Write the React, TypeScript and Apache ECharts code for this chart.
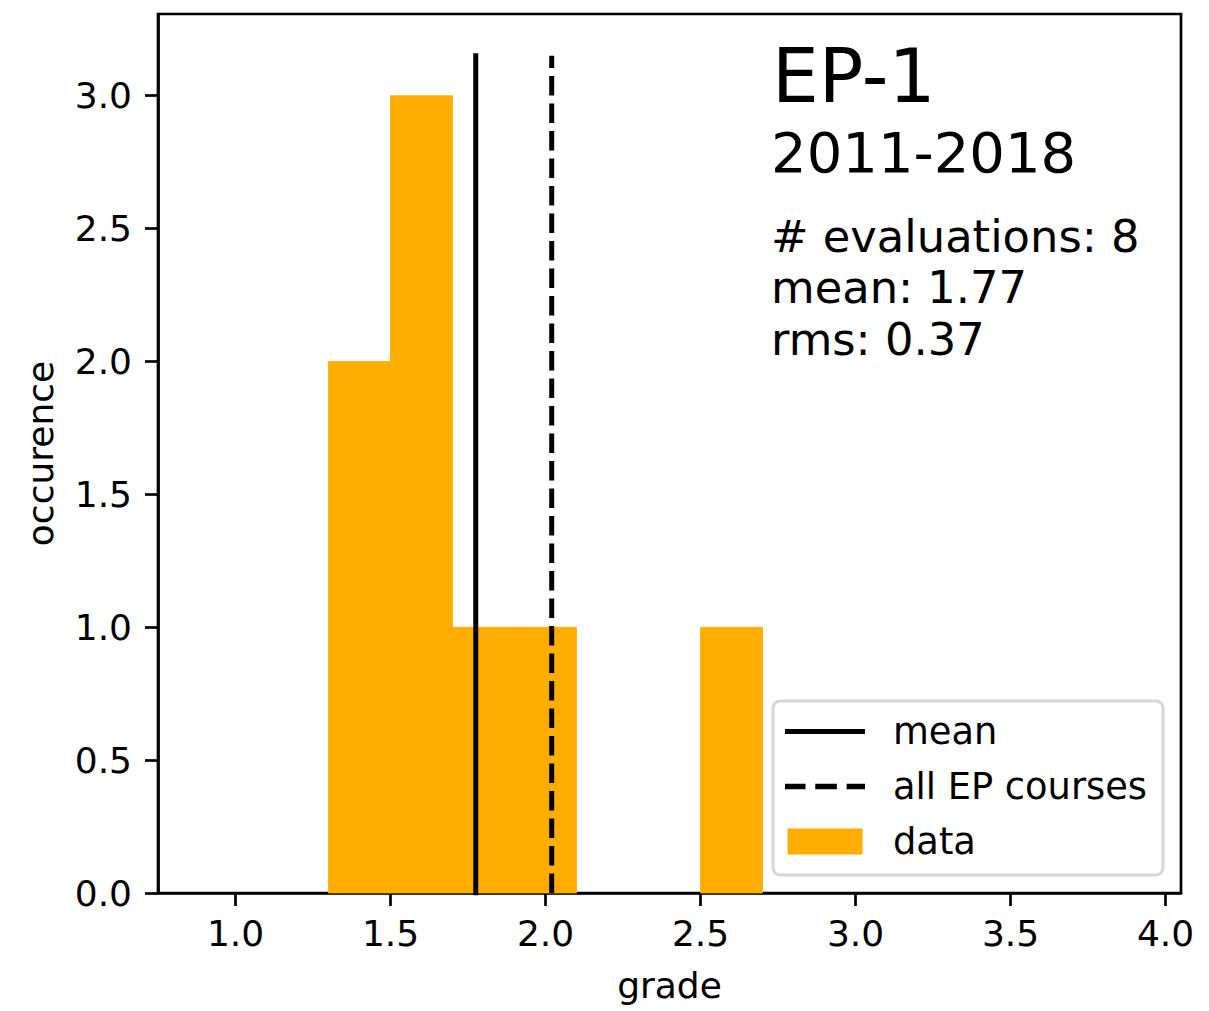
import React, { useEffect, useRef } from "react";
import * as echarts from "echarts";

// ---- data ----
const binEdges = [1.3, 1.5, 1.7, 1.9, 2.1, 2.3, 2.5, 2.7];
const counts = [2, 3, 1, 1, 0, 0, 1];
const meanGrade = 1.775;
const allCoursesMean = 2.02;
const lineTop = 3.15;
const xTicks = [1.0, 1.5, 2.0, 2.5, 3.0, 3.5, 4.0];
const yTicks = [0.0, 0.5, 1.0, 1.5, 2.0, 2.5, 3.0];
const courseName = "EP-1";
const yearRange = "2011-2018";
const statLines = ["# evaluations: 8", "mean: 1.77", "rms: 0.37"];
const seriesNames = ["mean", "all EP courses", "data"];

const FONT = "DejaVu Sans";
const BAR_COLOR = "#ffae00";

export default function App() {
  const ref = useRef<HTMLDivElement>(null);
  useEffect(() => {
    document.body.style.margin = "0";
    const chart = echarts.init(ref.current!, null, { renderer: "svg" });
    const histData = counts.map((c, i) => [binEdges[i], binEdges[i + 1], c]);
    const option: any = {
      animation: false,
      backgroundColor: "#ffffff",
      textStyle: { fontFamily: FONT, color: "#000" },
      grid: {
        left: 158,
        top: 14,
        width: 1023,
        height: 879,
        show: true,
        borderColor: "#000",
        borderWidth: 2.7,
        backgroundColor: "transparent",
      },
      xAxis: {
        type: "value",
        min: 0.75,
        max: 4.05,
        name: "grade",
        nameLocation: "middle",
        nameGap: 74,
        nameTextStyle: { fontSize: 36, fontFamily: FONT, color: "#000" },
        axisLine: { show: true, lineStyle: { color: "#000", width: 2.7 } },
        axisTick: {
          show: true,
          length: 13,
          lineStyle: { color: "#000", width: 2.7 },
          customValues: xTicks,
        },
        axisLabel: {
          fontSize: 36,
          fontFamily: FONT,
          color: "#000",
          margin: 22,
          customValues: xTicks,
          formatter: (v: number) => v.toFixed(1),
        },
        splitLine: { show: false },
      },
      yAxis: {
        type: "value",
        min: 0,
        max: 3.3075,
        name: "occurence",
        nameLocation: "middle",
        nameGap: 100,
        nameRotate: 90,
        nameTextStyle: { fontSize: 36, fontFamily: FONT, color: "#000" },
        axisLine: { show: true, lineStyle: { color: "#000", width: 2.7 } },
        axisTick: {
          show: true,
          length: 13,
          lineStyle: { color: "#000", width: 2.7 },
          customValues: yTicks,
        },
        axisLabel: {
          fontSize: 36,
          fontFamily: FONT,
          color: "#000",
          margin: 26,
          customValues: yTicks,
          formatter: (v: number) => v.toFixed(1),
        },
        splitLine: { show: false },
      },
      legend: {
        orient: "vertical",
        left: 773,
        top: 701,
        padding: [12, 16, 15, 12],
        itemWidth: 80,
        itemHeight: 26,
        itemGap: 18,
        symbolKeepAspect: true,
        backgroundColor: "rgba(255,255,255,0.8)",
        borderColor: "#d6d6d6",
        borderWidth: 3,
        borderRadius: 7,
        textStyle: {
          fontSize: 36.8,
          fontFamily: FONT,
          color: "#000",
          lineHeight: 36,
          padding: [0, 0, 0, 23],
        },
        data: [
          {
            name: seriesNames[0],
            icon: "path://M0,0L80,0L80,5L0,5Z",
            itemStyle: { color: "#000", borderWidth: 0 },
          },
          {
            name: seriesNames[1],
            icon: "path://M0,0h19v5h-19z M28,0h20v5h-20z M57,0h17v5h-17z",
            itemStyle: { color: "#000", borderWidth: 0 },
          },
          {
            name: seriesNames[2],
            icon: "path://M0,0h75v26h-75z",
            itemStyle: { color: BAR_COLOR, borderWidth: 0 },
          },
        ],
      },
      series: [
        {
          name: seriesNames[2],
          type: "custom",
          data: histData,
          encode: { x: [0, 1], y: 2 },
          itemStyle: { color: BAR_COLOR },
          z: 1,
          renderItem: (params: any, api: any) => {
            const x0 = api.value(0);
            const x1 = api.value(1);
            const c = api.value(2);
            if (!c) return null;
            const p0 = api.coord([x0, c]);
            const p1 = api.coord([x1, 0]);
            return {
              type: "rect",
              shape: {
                x: p0[0],
                y: p0[1],
                width: p1[0] - p0[0],
                height: p1[1] - p0[1],
              },
              style: { fill: BAR_COLOR, stroke: BAR_COLOR, lineWidth: 0.8 },
            };
          },
        },
        {
          name: seriesNames[0],
          type: "line",
          data: [
            [meanGrade, 0],
            [meanGrade, lineTop],
          ],
          symbol: "none",
          lineStyle: { color: "#000", width: 5, cap: "square" },
          itemStyle: { color: "#000" },
          z: 3,
        },
        {
          name: seriesNames[1],
          type: "line",
          data: [
            [allCoursesMean, 0],
            [allCoursesMean, lineTop],
          ],
          symbol: "none",
          lineStyle: { color: "#000", width: 5, type: [19.5, 8], cap: "butt" },
          itemStyle: { color: "#000" },
          z: 3,
        },
      ],
      graphic: [
        {
          type: "text",
          x: 772,
          y: 76,
          style: {
            text: courseName,
            fontSize: 74,
            fontFamily: FONT,
            fill: "#000",
            align: "left",
            verticalAlign: "middle",
          },
        },
        {
          type: "text",
          x: 771,
          y: 152,
          style: {
            text: yearRange,
            fontSize: 56,
            fontFamily: FONT,
            fill: "#000",
            align: "left",
            verticalAlign: "middle",
          },
        },
        ...statLines.map((t, i) => ({
          type: "text",
          x: 771,
          y: 236 + i * 51.7,
          style: {
            text: t,
            fontSize: 44.8,
            fontFamily: FONT,
            fill: "#000",
            align: "left",
            verticalAlign: "middle",
          },
        })),
      ],
    };
    chart.setOption(option);
    return () => chart.dispose();
  }, []);
  return <div ref={ref} style={{ width: 1209, height: 1011 }} />;
}
